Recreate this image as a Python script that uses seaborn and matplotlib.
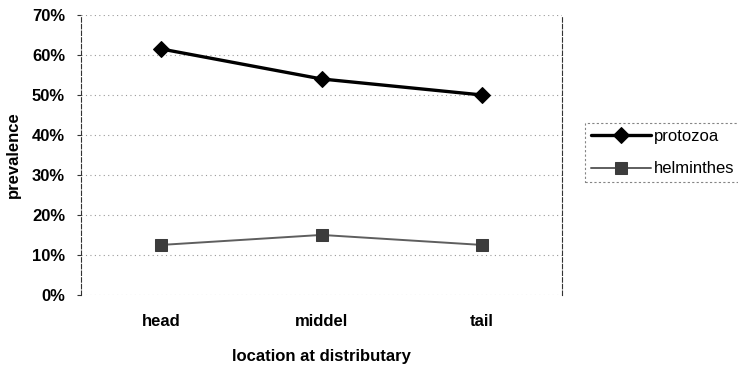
import matplotlib
matplotlib.use("Agg")
import matplotlib.pyplot as plt
import seaborn as sns
import pandas as pd
from matplotlib.ticker import PercentFormatter

locations = ["head", "middel", "tail"]
protozoa = [61.5, 54.0, 50.0]
helminthes = [12.5, 15.0, 12.5]
y_ticks = [0, 10, 20, 30, 40, 50, 60, 70]

sns.set_theme(style="white")
plt.rcParams["font.family"] = ["Liberation Sans", "DejaVu Sans"]

fig = plt.figure(figsize=(7.38, 3.65), dpi=100)
ax = fig.add_axes([0.1098, 0.192, 0.6517, 0.767])

df_p = pd.DataFrame({"location": locations, "prevalence": protozoa})
df_h = pd.DataFrame({"location": locations, "prevalence": helminthes})

sns.lineplot(data=df_p, x="location", y="prevalence", ax=ax, color="black",
             linewidth=2.4, marker="D", markersize=8, markeredgecolor="black",
             label="protozoa", sort=False)
sns.lineplot(data=df_h, x="location", y="prevalence", ax=ax, color="#5e5e5e",
             linewidth=1.4, marker="s", markersize=8, markerfacecolor="#3c3c3c",
             markeredgecolor="#3c3c3c", label="helminthes", sort=False)

ax.set_xlim(-0.5, 2.5)
ax.set_ylim(0, 70)
ax.set_yticks(y_ticks)
ax.yaxis.set_major_formatter(PercentFormatter(decimals=0))
ax.grid(axis="y", color="#9a9a9a", linestyle=(0, (1, 3)), linewidth=0.8)
ax.set_axisbelow(True)

for side in ("top", "bottom"):
    ax.spines[side].set_visible(False)
for side in ("left", "right"):
    ax.spines[side].set_visible(True)
    ax.spines[side].set_color("#333333")
    ax.spines[side].set_linestyle((0, (4, 2)))
    ax.spines[side].set_linewidth(0.8)

ax.tick_params(axis="y", left=True, length=3, width=0.8, color="#333333",
               labelsize=12, pad=8.5, labelcolor="black")
ax.tick_params(axis="x", bottom=False, labelsize=12, pad=8, labelcolor="black")
for lbl in ax.get_xticklabels() + ax.get_yticklabels():
    lbl.set_fontweight("bold")

ax.set_xlabel("location at distributary", fontsize=12, fontweight="bold",
              labelpad=14, color="black")
ax.set_ylabel("prevalence", fontsize=12, fontweight="bold", labelpad=8, color="black")

leg = ax.legend(loc="upper left", bbox_to_anchor=(1.048, 0.614), frameon=True,
                fontsize=12, handlelength=3.6, borderpad=0.35, labelspacing=1.05,
                handletextpad=0.18, borderaxespad=0, fancybox=False)
leg.get_frame().set_edgecolor("#666666")
leg.get_frame().set_linestyle((0, (2, 2)))
leg.get_frame().set_linewidth(0.8)
for t in leg.get_texts():
    t.set_color("black")

fig.savefig("out.png", dpi=100)
